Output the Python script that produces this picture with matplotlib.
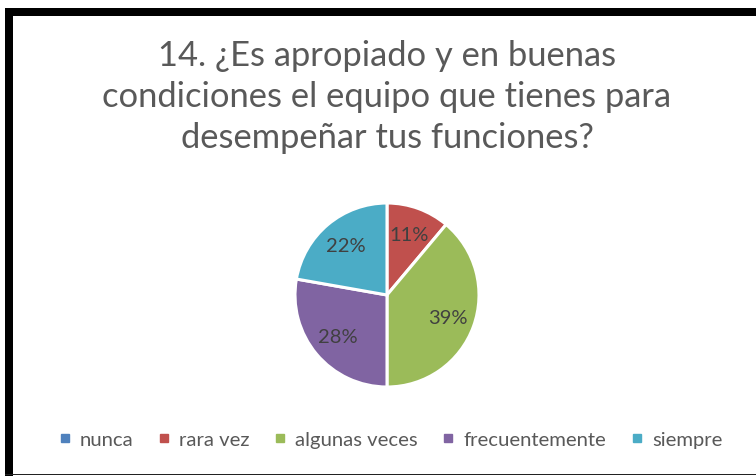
import matplotlib
matplotlib.use("Agg")
import matplotlib.pyplot as plt
from matplotlib.patches import Rectangle
from matplotlib.lines import Line2D

# Data
categories = ["nunca", "rara vez", "algunas veces", "frecuentemente", "siempre"]
counts = [0, 2, 7, 5, 4]
colors = ["#4F81BD", "#C0504D", "#9BBB59", "#8064A2", "#4BACC6"]
title = "14. ¿Es apropiado y en buenas\ncondiciones el equipo que tienes para\ndesempeñar tus funciones?"

plt.rcParams['font.family'] = ['Lato', 'DejaVu Sans']

W, H = 756, 477
fig = plt.figure(figsize=(W / 100, H / 100), dpi=100)
fig.patch.set_facecolor("white")

# frame of the chart box (thick left/top, thin bottom)
fig.add_artist(Rectangle((5 / W, 1 - 16.5 / H), 1, 8 / H, transform=fig.transFigure,
                         facecolor="black", edgecolor="none"))
fig.add_artist(Rectangle((5 / W, 0), 8 / W, 1 - 9 / H, transform=fig.transFigure,
                         facecolor="black", edgecolor="none"))
fig.add_artist(Rectangle((5 / W, 1 / H), 1, 1.2 / H, transform=fig.transFigure,
                         facecolor="#222222", edgecolor="none"))

# title
fig.text(387 / W, 1 - 97 / H, title, ha="center", va="center", fontsize=24.8,
         color="#595959", linespacing=1.36)

# pie
cx, cy, r = 387, 296, 92
ax = fig.add_axes([(cx - r) / W, (H - cy - r) / H, 2 * r / W, 2 * r / H])


def fmt(p):
    return f"{p:.0f}%" if p > 0.5 else ""


wedges, texts, autotexts = ax.pie(counts, colors=colors, startangle=90, counterclock=False,
                                  autopct=fmt, pctdistance=0.7,
                                  wedgeprops=dict(edgecolor="white", linewidth=2.2),
                                  textprops=dict(fontsize=14.5, color="#404040"))
ax.set_xlim(-1, 1)
ax.set_ylim(-1, 1)
ax.set_aspect("equal")
ax.axis("off")

# legend
handles = [Line2D([0], [0], marker="s", linestyle="none", markersize=6,
                  markerfacecolor=c, markeredgecolor=c) for c in colors]
fig.legend(handles, categories, loc="center", bbox_to_anchor=(391 / W, 1 - 440 / H),
           ncol=5, frameon=False, fontsize=14.6, handlelength=0.5, handletextpad=0.5,
           columnspacing=1.25, labelcolor="#595959")

fig.savefig("out.png", dpi=100)
